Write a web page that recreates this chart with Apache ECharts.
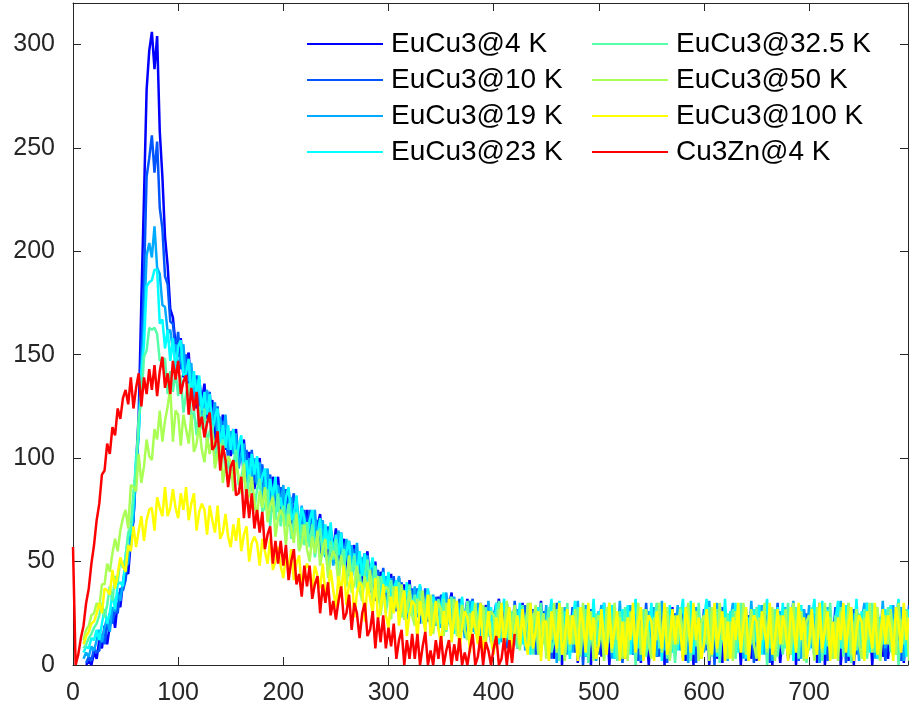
<!DOCTYPE html>
<html><head><meta charset="utf-8">
<script src="https://cdn.jsdelivr.net/npm/echarts@6/dist/echarts.min.js"></script>
<style>html,body{margin:0;padding:0;background:#fff}#c{width:909px;height:710px}</style>
</head><body><div id="c"></div>
<script>
const xs = [
0,2.5,5,7.5,10,12.5,15,17.5,20,22.5,
25,27.5,30,32.5,35,37.5,40,42.5,45,47.5,
50,52.5,55,57.5,60,62.5,65,67.5,70,72.5,
75,77.5,80,82.5,85,87.5,90,92.5,95,97.5,
100,102.5,105,107.5,110,112.5,115,117.5,120,122.5,
125,127.5,130,132.5,135,137.5,140,142.5,145,147.5,
150,152.5,155,157.5,160,162.5,165,167.5,170,172.5,
175,177.5,180,182.5,185,187.5,190,192.5,195,197.5,
200,202.5,205,207.5,210,212.5,215,217.5,220,222.5,
225,227.5,230,232.5,235,237.5,240,242.5,245,247.5,
250,252.5,255,257.5,260,262.5,265,267.5,270,272.5,
275,277.5,280,282.5,285,287.5,290,292.5,295,297.5,
300,302.5,305,307.5,310,312.5,315,317.5,320,322.5,
325,327.5,330,332.5,335,337.5,340,342.5,345,347.5,
350,352.5,355,357.5,360,362.5,365,367.5,370,372.5,
375,377.5,380,382.5,385,387.5,390,392.5,395,397.5,
400,402.5,405,407.5,410,412.5,415,417.5,420,422.5,
425,427.5,430,432.5,435,437.5,440,442.5,445,447.5,
450,452.5,455,457.5,460,462.5,465,467.5,470,472.5,
475,477.5,480,482.5,485,487.5,490,492.5,495,497.5,
500,502.5,505,507.5,510,512.5,515,517.5,520,522.5,
525,527.5,530,532.5,535,537.5,540,542.5,545,547.5,
550,552.5,555,557.5,560,562.5,565,567.5,570,572.5,
575,577.5,580,582.5,585,587.5,590,592.5,595,597.5,
600,602.5,605,607.5,610,612.5,615,617.5,620,622.5,
625,627.5,630,632.5,635,637.5,640,642.5,645,647.5,
650,652.5,655,657.5,660,662.5,665,667.5,670,672.5,
675,677.5,680,682.5,685,687.5,690,692.5,695,697.5,
700,702.5,705,707.5,710,712.5,715,717.5,720,722.5,
725,727.5,730,732.5,735,737.5,740,742.5,745,747.5,
750,752.5,755,757.5,760,762.5,765,767.5,770,772.5,
775,777.5,780,782.5,785,787.5,790,792.5,795];

const seriesNames = ['EuCu3@4 K','EuCu3@10 K','EuCu3@19 K','EuCu3@23 K','EuCu3@32.5 K','EuCu3@50 K','EuCu3@100 K','Cu3Zn@4 K'];

const eu4K = [
null,null,null,null,null,0,2,0,6,3,
12,8,19,10,19,26,18,30,28,40,
46,44,60,70,97,121,176,226,278,297,
306,288,304,258,236,207,193,172,168,155,
149,158,139,147,151,132,137,124,138,127,
136,119,125,128,109,122,112,121,104,111,
101,109,114,98,100,109,90,103,97,85,
95,100,83,86,94,76,91,79,91,75,
85,75,85,68,76,81,62,74,64,75,
63,74,57,67,73,56,62,51,66,56,
66,50,57,61,43,57,48,58,42,49,
40,49,55,38,41,50,32,45,40,28,
39,44,29,32,42,24,39,28,41,26,
36,27,38,22,30,36,19,31,22,33,
22,34,17,28,35,18,25,15,30,21,
32,16,24,29,12,26,18,29,14,21,
12,24,32,14,18,30,9,26,21,8,
22,30,10,15,28,6,27,13,31,11,
22,8,27,3,16,25,0,19,6,23,
7,25,1,17,28,4,14,0,24,10,
26,4,16,23,0,20,8,25,2,15,
3,18,28,5,12,27,1,22,16,0,
17,27,4,10,25,0,23,7,28,5,
21,9,26,2,15,24,0,18,5,22,
8,24,0,16,27,3,13,1,23,11,
25,5,15,22,0,19,9,24,3,14,
2,17,27,6,11,26,0,21,15,1,
16,26,3,11,24,0,22,8,27,6,
20,10,25,1,14,23,0,17,4,21,
9,23,0,15,26,2,12,0,22,12,
24,6,14,21,0,18,10,23,4,13,
3,16,26,7,10,25,1,20,14];

const eu10K = [
null,null,null,null,null,1,4,2,8,6,
7,15,10,19,25,20,27,25,37,36,
41,53,57,72,92,114,153,186,236,245,
256,238,253,221,211,188,184,166,165,152,
161,143,148,150,130,142,132,140,123,129,
119,127,132,115,117,125,106,118,112,100,
110,114,97,100,108,90,104,92,104,88,
97,87,97,80,87,92,74,86,75,86,
74,85,67,77,83,66,71,60,75,65,
75,59,66,70,52,66,57,67,51,58,
49,58,64,48,52,60,42,56,51,38,
49,54,38,40,49,31,46,34,47,31,
41,31,43,26,35,40,22,35,25,37,
25,37,20,31,37,21,28,17,33,23,
34,19,27,32,15,29,21,32,16,23,
15,25,32,17,21,30,13,27,23,11,
23,30,12,17,29,8,27,14,31,13,
25,13,29,8,20,27,5,22,11,26,
9,27,3,19,30,6,16,2,26,12,
28,6,18,25,0,22,10,27,4,16,
5,19,30,8,13,28,3,24,18,1,
19,28,6,12,27,2,25,9,30,7,
24,10,28,4,18,27,1,21,7,25,
8,27,3,20,29,6,16,1,25,12,
27,7,18,26,0,23,11,28,4,16,
4,20,29,8,14,28,2,24,18,1,
20,29,6,12,27,1,26,9,30,8,
23,11,28,5,18,26,2,21,8,25,
9,26,3,19,30,5,17,2,24,13,
28,6,17,26,1,22,11,27,5,17,
5,19,30,7,14,29,3,23,18,2,
19,28,7,13,27,2,25,10,29];

const eu19K = [
null,null,null,null,3,6,4,9,7,12,
17,11,18,23,16,28,26,35,31,40,
48,49,65,71,94,112,143,165,198,204,
197,212,192,189,174,173,161,162,152,155,
143,150,155,137,138,146,126,138,131,118,
128,133,117,119,127,108,120,109,121,104,
113,102,112,95,102,107,88,100,89,100,
87,98,80,90,95,78,84,73,87,77,
87,71,77,81,63,77,67,77,61,68,
59,68,75,58,61,70,52,65,61,48,
59,65,49,52,61,43,58,46,59,42,
52,42,53,35,43,48,30,42,32,43,
31,42,26,36,43,27,32,22,37,28,
38,23,30,35,17,32,24,34,19,26,
18,29,35,20,24,33,16,30,25,13,
25,31,16,20,30,12,28,17,31,15,
26,15,30,11,21,29,8,24,13,27,
12,27,7,21,30,9,18,5,26,14,
29,7,19,27,1,23,11,28,5,17,
6,20,31,9,15,29,4,25,19,2,
20,29,7,13,28,3,26,10,31,8,
25,11,29,5,19,28,2,22,8,26,
10,28,4,21,31,7,17,3,26,13,
29,7,19,27,1,24,12,28,6,18,
6,21,31,9,15,30,4,25,19,2,
21,30,7,13,28,3,27,10,31,8,
25,12,29,5,19,28,2,22,9,26,
10,28,4,21,31,7,17,3,27,13,
29,8,19,27,1,24,12,28,6,18,
6,21,31,9,15,30,4,25,19,2,
21,30,7,13,29,3,27,10,31,8,
25,12,29,5,19,28,2,22,9];

const eu23K = [
null,null,null,null,6,9,8,13,12,17,
12,20,27,20,25,35,27,39,40,38,
53,62,64,78,101,111,141,155,183,185,
186,191,191,165,167,153,162,147,158,141,
154,157,140,141,148,129,142,129,140,123,
132,121,131,113,120,124,105,116,105,116,
104,114,96,106,111,94,99,88,102,92,
101,85,91,95,76,90,81,91,74,81,
72,81,86,70,73,82,63,76,71,59,
70,75,59,62,71,53,68,56,69,53,
63,53,64,47,55,60,42,54,44,55,
43,54,37,46,52,35,41,30,45,35,
45,29,37,41,24,38,29,40,24,32,
23,33,39,24,27,37,20,33,29,17,
29,35,19,23,33,15,31,20,33,18,
29,19,31,15,24,29,12,25,16,28,
15,30,10,24,32,13,21,9,28,18,
30,10,21,27,5,25,14,28,9,19,
7,22,32,10,16,31,5,26,20,3,
22,31,8,14,29,4,28,11,32,9,
26,12,30,6,20,29,3,23,10,27,
11,29,5,22,32,8,18,4,27,14,
30,8,20,28,2,25,13,29,6,19,
7,22,32,10,16,31,5,26,20,3,
22,32,8,14,29,4,28,11,32,9,
26,13,30,6,20,29,3,23,10,27,
11,29,5,22,32,8,18,4,28,14,
30,8,20,28,2,25,13,29,6,19,
7,22,32,10,16,31,5,27,20,3,
22,31,8,14,29,4,28,11,32,9,
26,12,30,6,20,29,3,23,10,27,
11,29,5,22,32,8,18,4,27];

const eu32K = [
null,null,null,null,8,10,13,15,18,20,
24,30,23,29,38,31,43,40,51,47,
52,64,67,84,95,120,127,149,152,163,
162,163,160,147,148,148,131,142,132,142,
130,140,122,131,136,118,123,111,125,114,
124,107,113,116,97,110,100,109,93,99,
90,98,104,87,90,98,80,92,87,75,
85,90,74,76,85,67,82,70,83,67,
77,67,78,61,69,74,56,68,58,69,
57,68,52,61,66,53,56,45,60,51,
61,45,52,56,38,52,43,53,37,44,
35,44,51,36,40,48,30,43,38,25,
36,41,27,31,40,23,36,26,39,24,
34,25,36,20,28,33,18,30,21,32,
20,32,16,26,33,17,24,14,29,20,
31,16,24,29,12,26,18,28,14,21,
11,23,31,13,18,30,9,26,21,8,
21,29,9,14,27,5,26,12,30,10,
19,28,6,12,27,2,25,9,30,7,
24,10,28,4,18,27,1,21,7,25,
9,27,3,19,30,6,16,2,26,12,
28,6,18,25,0,22,10,27,4,16,
5,19,30,8,13,28,3,24,18,1,
19,28,6,12,27,2,25,9,30,7,
24,10,28,4,18,27,1,21,7,25,
9,27,3,19,30,6,16,2,26,12,
28,6,18,25,0,22,10,27,4,16,
5,19,30,8,13,28,3,24,18,1,
19,28,6,12,27,2,25,9,30,7,
24,10,28,4,18,27,1,21,7,25,
9,27,3,19,30,6,16,2,26,12,
28,6,18,25,0,22,10,27,4];

const eu50K = [
null,null,null,null,12,17,19,24,25,30,
28,39,39,49,45,54,61,55,65,71,
75,66,87,86,84,102,88,96,109,101,
99,114,109,123,108,118,125,134,108,123,
121,106,121,114,107,121,103,107,116,104,
98,110,102,112,95,102,107,88,97,101,
98,84,98,91,83,97,79,82,91,79,
72,84,76,86,69,77,81,62,71,75,
72,58,73,66,59,73,55,59,68,56,
50,62,54,65,48,56,61,42,51,55,
52,38,53,46,39,53,35,39,48,36,
31,43,35,46,30,38,43,24,34,38,
36,22,38,31,25,39,22,26,36,24,
19,32,24,36,19,28,34,15,25,30,
27,14,30,23,17,32,14,19,29,17,
12,25,18,30,14,23,29,11,21,26,
24,8,27,20,13,31,11,17,29,15,
7,24,14,30,9,21,29,5,18,25,
3,23,12,30,6,20,28,2,17,24,
10,27,12,5,30,8,17,26,2,21,
24,17,2,28,20,6,30,12,23,3,
21,2,26,17,8,30,5,12,27,10,
3,23,12,30,6,20,28,2,17,24,
10,27,12,5,30,8,17,26,2,21,
24,17,2,28,20,6,30,12,23,3,
21,2,26,17,8,30,5,12,27,10,
3,23,12,30,6,20,28,2,17,24,
10,27,12,5,30,8,17,26,2,21,
24,17,2,28,20,6,30,12,23,3,
21,2,26,17,8,30,5,12,27,10,
3,23,12,30,6,20,28,2,17,24,
10,27,12,5,30,8,17,26,2];

const eu100K = [
null,null,null,null,10,14,16,20,21,25,
30,25,37,36,34,46,37,44,52,48,
45,58,55,67,57,65,72,60,70,75,
76,65,81,76,72,86,72,76,85,76,
71,83,75,86,70,78,83,65,74,78,
75,63,77,70,64,77,61,64,73,62,
57,68,60,71,55,63,67,50,59,62,
59,48,61,55,49,61,46,50,57,48,
42,53,46,56,41,49,53,37,45,49,
46,36,48,43,37,49,34,37,46,36,
28,43,35,48,29,39,45,23,35,40,
38,21,40,32,25,42,22,27,39,24,
18,33,25,38,19,30,36,14,25,31,
29,12,31,24,16,34,14,19,31,17,
10,26,17,32,11,23,31,6,19,26,
23,6,26,18,10,30,7,13,26,12,
5,23,13,30,8,20,28,3,17,24,
10,27,12,5,30,8,17,26,2,21,
21,2,26,17,8,30,5,12,27,10,
24,17,2,28,20,6,30,12,23,3,
10,27,12,5,30,8,17,26,2,21,
3,23,12,30,6,20,28,2,17,24,
21,2,26,17,8,30,5,12,27,10,
24,17,2,28,20,6,30,12,23,3,
10,27,12,5,30,8,17,26,2,21,
3,23,12,30,6,20,28,2,17,24,
21,2,26,17,8,30,5,12,27,10,
24,17,2,28,20,6,30,12,23,3,
10,27,12,5,30,8,17,26,2,21,
3,23,12,30,6,20,28,2,17,24,
21,2,26,17,8,30,5,12,27,10,
24,17,2,28,20,6,30,12,23];

const cu3Zn4K = [
57,0,5,13,19,30,37,49,58,70,
78,92,94,107,102,115,111,124,119,129,
133,126,139,124,134,141,125,139,131,143,
133,145,130,142,149,134,141,131,147,138,
147,131,137,140,121,134,123,132,115,120,
110,117,122,104,106,113,94,106,99,86,
96,99,82,83,91,71,85,71,83,66,
75,64,74,56,63,67,49,60,49,60,
48,58,41,50,56,39,44,33,48,38,
48,32,39,43,25,39,30,40,24,31,
22,31,38,22,25,34,17,30,25,13,
25,30,14,17,26,8,23,11,24,8,
18,9,20,3,12,17,0,12,3,15,
3,15,0,9,16,0,7,0,12,3,
14,0,7,12,0,10,2,13,0,6,
0,8,15,0,4,14,0,11,7,0,
8,14,0,3,13,0,12,1,15];

const yTicks = {min:0, max:320, interval:50};
const xTicks = {min:0, max:794, interval:100};

const lineColors = ['#0000ff','#0055ff','#00aaff','#00ffff','#55ffaa','#aaff55','#ffff00','#ff0000'];
const allY = [eu4K, eu10K, eu19K, eu23K, eu32K, eu50K, eu100K, cu3Zn4K];

const axisCol = '#262626';
const font = 'Liberation Sans, Arial, Helvetica, sans-serif';
const chart = echarts.init(document.getElementById('c'), null, {renderer:'canvas'});
const legendBase = {
  orient:'vertical', top:26, itemWidth:76, itemHeight:2, itemGap:0, icon:'rect',
  selectedMode:false, padding:0,
  textStyle:{fontSize:28, fontFamily:font, color:'#000', lineHeight:36, padding:[0,0,0,3]}
};
chart.setOption({
  animation:false,
  backgroundColor:'#fff',
  grid:{left:73, right:1, top:3, bottom:45, containLabel:false},
  legend:[
    Object.assign({}, legendBase, {left:307, data:seriesNames.slice(0,4)}),
    Object.assign({}, legendBase, {left:592, data:seriesNames.slice(4)})
  ],
  xAxis:[
    {type:'value', position:'bottom', min:xTicks.min, max:xTicks.max, interval:xTicks.interval,
     axisLine:{show:true, onZero:false, lineStyle:{color:axisCol, width:1}},
     axisTick:{show:true, inside:true, length:8, lineStyle:{color:axisCol}},
     axisLabel:{show:true, fontSize:25, fontFamily:font, color:axisCol, margin:16, showMaxLabel:false},
     splitLine:{show:false}},
    {type:'value', position:'top', min:xTicks.min, max:xTicks.max, interval:xTicks.interval,
     axisLine:{show:true, onZero:false, lineStyle:{color:axisCol, width:1}},
     axisTick:{show:true, inside:true, length:8, lineStyle:{color:axisCol}},
     axisLabel:{show:false}, splitLine:{show:false}}
  ],
  yAxis:[
    {type:'value', position:'left', min:yTicks.min, max:yTicks.max, interval:yTicks.interval,
     axisLine:{show:true, onZero:false, lineStyle:{color:axisCol, width:1}},
     axisTick:{show:true, inside:true, length:8, lineStyle:{color:axisCol}},
     axisLabel:{show:true, fontSize:25, fontFamily:font, color:axisCol, margin:18, showMaxLabel:false},
     splitLine:{show:false}},
    {type:'value', position:'right', min:yTicks.min, max:yTicks.max, interval:yTicks.interval,
     axisLine:{show:true, onZero:false, lineStyle:{color:axisCol, width:1}},
     axisTick:{show:true, inside:true, length:8, lineStyle:{color:axisCol}},
     axisLabel:{show:false}, splitLine:{show:false}}
  ],
  series: seriesNames.map((n, i) => ({
    name:n, type:'line', xAxisIndex:0, yAxisIndex:0,
    data: allY[i].map((y, j) => [xs[j], y]),
    symbol:'none', showSymbol:false, clip:true, sampling:null,
    lineStyle:{width:2.5, color:lineColors[i]},
    itemStyle:{color:lineColors[i]},
    emphasis:{disabled:true}
  }))
});
</script></body></html>
